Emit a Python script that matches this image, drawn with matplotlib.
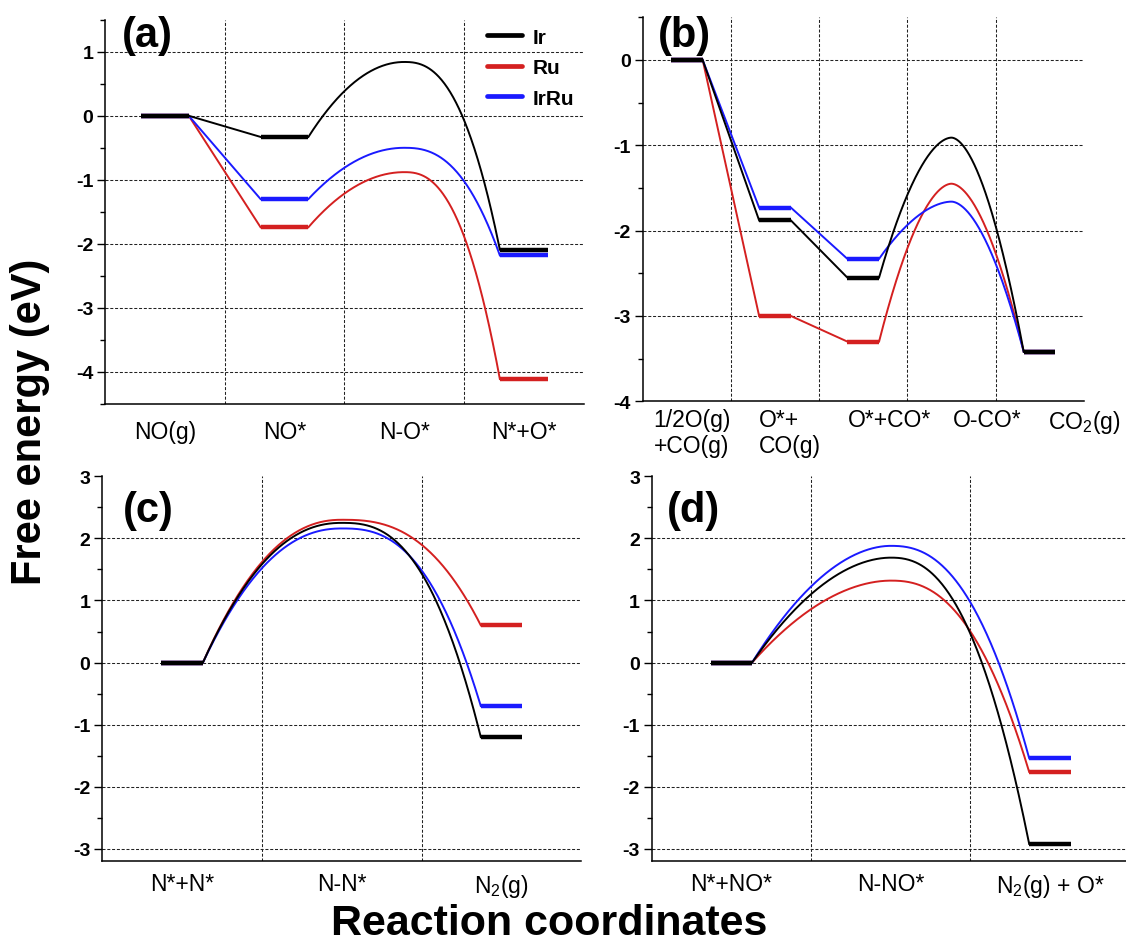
import numpy as np
import matplotlib
matplotlib.use("Agg")
import matplotlib.pyplot as plt
from matplotlib.lines import Line2D
from matplotlib.ticker import MultipleLocator

plt.rcParams["font.family"] = ["Liberation Sans", "DejaVu Sans"]
plt.rcParams["mathtext.fontset"] = "custom"
plt.rcParams["mathtext.rm"] = "Liberation Sans"
plt.rcParams["mathtext.it"] = "Liberation Sans:italic"
plt.rcParams["mathtext.bf"] = "Liberation Sans:bold"
plt.rcParams["axes.unicode_minus"] = False

# ---- free-energy data (eV) ----
series_names = ["Ir", "Ru", "IrRu"]

# (a) NO dissociation
a_states = ["NO(g)", "NO*", "N-O*", "N*+O*"]
a_ir = [0.00, -0.33, 0.84, -2.09]
a_ru = [0.00, -1.74, -0.88, -4.11]
a_irru = [0.00, -1.30, -0.50, -2.18]
a_ts = 2

# (b) CO oxidation
b_states = ["1/2O(g)\n+CO(g)", "O*+\nCO(g)", "O*+CO*", "O-CO*", "CO$_2$(g)"]
b_ir = [0.00, -1.88, -2.55, -0.91, -3.42]
b_ru = [0.00, -3.00, -3.30, -1.45, -3.42]
b_irru = [0.00, -1.73, -2.33, -1.66, -3.42]
b_ts = 3
b_label_x = [1.06, 2.17, 3.30, 4.41, 5.51]

# (c) N + N coupling
c_states = ["N*+N*", "N-N*", "N$_2$(g)"]
c_ir = [0.00, 2.25, -1.20]
c_ru = [0.00, 2.30, 0.60]
c_irru = [0.00, 2.16, -0.70]
c_ts = 1

# (d) N + NO coupling
d_states = ["N*+NO*", "N-NO*", "N$_2$(g) + O*"]
d_ir = [0.00, 1.69, -2.92]
d_ru = [0.00, 1.32, -1.76]
d_irru = [0.00, 1.88, -1.54]
d_ts = 1

colors = {"Ir": "#000000", "Ru": "#d42020", "IrRu": "#1a1aff"}
draw_order = ["Ru", "IrRu", "Ir"]

W, H = 1126, 945
fig = plt.figure(figsize=(W / 100, H / 100), dpi=100)


def px_axes(left, right, top, bottom):
    return fig.add_axes([left / W, 1 - bottom / H, (right - left) / W, (bottom - top) / H])


def barrier(x0, y0, xp, yp, x1, y1, pl, pr, n=200):
    xl = np.linspace(x0, xp, n)
    tl = (xp - xl) / (xp - x0)
    yl = yp - (yp - y0) * tl ** pl
    xr = np.linspace(xp, x1, n)
    tr = (xr - xp) / (x1 - xp)
    yr = yp - (yp - y1) * tr ** pr
    return np.concatenate([xl, xr[1:]]), np.concatenate([yl, yr[1:]])


def draw_profile(ax, values, ts, color, hw, pl, pr, z):
    xs = np.arange(1, len(values) + 1)
    levels = [i for i in range(len(values)) if i != ts]
    for i in levels:
        ax.plot([xs[i] - hw, xs[i] + hw], [values[i]] * 2, color=color,
                lw=3.2, solid_capstyle="butt", zorder=z + 1)
    for i, j in zip(levels[:-1], levels[1:]):
        x0, x1 = xs[i] + hw, xs[j] - hw
        if j - i == 2 and i + 1 == ts:
            bx, by = barrier(x0, values[i], xs[ts], values[ts], x1, values[j], pl, pr)
            ax.plot(bx, by, color=color, lw=1.4, zorder=z)
        else:
            ax.plot([x0, x1], [values[i], values[j]], color=color, lw=1.4, zorder=z)


def style_axes(ax, n, ylim):
    ax.set_xlim(0.5, n + 0.5)
    ax.set_ylim(*ylim)
    for s in ("top", "right"):
        ax.spines[s].set_visible(False)
    for s in ("left", "bottom"):
        ax.spines[s].set_linewidth(1.1)
    ax.yaxis.set_major_locator(MultipleLocator(1))
    ax.yaxis.set_minor_locator(MultipleLocator(0.5))
    ax.tick_params(axis="y", which="major", direction="out", length=6, width=1.0,
                   pad=2.5, labelsize=14)
    ax.tick_params(axis="y", which="minor", direction="out", length=3.5, width=1.0)
    for lab in ax.get_yticklabels():
        lab.set_fontweight("bold")
    ax.tick_params(axis="x", which="both", length=0)
    grid_kw = dict(color="#222222", lw=0.75, ls=(0, (2.9, 1.7)), zorder=0.5)
    for xb in np.arange(1.5, n, 1.0):
        ax.axvline(xb, **grid_kw)
    for yv in np.arange(np.ceil(ylim[0]), ylim[1], 1.0):
        if ylim[0] < yv < ylim[1]:
            ax.axhline(yv, **grid_kw)


panels = [
    dict(box=(105, 583.6, 20.7, 405), ylim=(-4.5, 1.5), states=a_states,
         data=dict(Ir=a_ir, Ru=a_ru, IrRu=a_irru), ts=a_ts, hw=0.2, p=(2.0, 2.5),
         pad=11.5, tag="(a)", tagpos=(122, 36)),
    dict(box=(642.7, 1083.7, 18.3, 402.3), ylim=(-4.0, 0.5), states=b_states,
         data=dict(Ir=b_ir, Ru=b_ru, IrRu=b_irru), ts=b_ts, hw=0.18, p=(1.8, 1.8),
         pad=None, tag="(b)", tagpos=(658, 36)),
    dict(box=(102.3, 581.4, 477.3, 862.3), ylim=(-3.2, 3.0), states=c_states,
         data=dict(Ir=c_ir, Ru=c_ru, IrRu=c_irru), ts=c_ts, hw=0.13, p=(2.2, 2.6),
         pad=8, tag="(c)", tagpos=(123, 511)),
    dict(box=(651.7, 1129.5, 477.3, 862.3), ylim=(-3.2, 3.0), states=d_states,
         data=dict(Ir=d_ir, Ru=d_ru, IrRu=d_irru), ts=d_ts, hw=0.13, p=(1.9, 2.4),
         pad=8, tag="(d)", tagpos=(667, 511)),
]

axes = []
for P in panels:
    ax = px_axes(*P["box"])
    n = len(P["states"])
    style_axes(ax, n, P["ylim"])
    for k, name in enumerate(draw_order):
        draw_profile(ax, P["data"][name], P["ts"], colors[name], P["hw"],
                     P["p"][0], P["p"][1], z=2 + 2 * k)
    if P["pad"] is not None:
        ax.set_xticks(np.arange(1, n + 1))
        ax.set_xticklabels(P["states"], fontsize=16.5)
        ax.tick_params(axis="x", pad=P["pad"])
    else:
        ax.set_xticks([])
        for xl, lab in zip(b_label_x, P["states"]):
            ax.text(xl, -0.018, lab, transform=ax.get_xaxis_transform(),
                    ha="center", va="top", multialignment="left",
                    fontsize=16.5, linespacing=1.15, clip_on=False)
    fig.text(P["tagpos"][0] / W, 1 - P["tagpos"][1] / H, P["tag"],
             fontsize=30, fontweight="bold", ha="left", va="center")
    axes.append(ax)

handles = [Line2D([], [], color=colors[nm], lw=3.4, solid_capstyle="round")
           for nm in series_names]
leg = axes[0].legend(handles, series_names, loc="upper left",
                     bbox_to_anchor=(0.798, 0.979), frameon=False, borderpad=0,
                     borderaxespad=0, handlelength=1.68, handletextpad=0.53,
                     labelspacing=0.55, prop=dict(size=15, weight="bold"))

fig.text(30 / W, 1 - 422 / H, "Free energy (eV)", rotation=90, ha="center",
         va="center", fontsize=30, fontweight="bold")
fig.text(549 / W, 1 - 924 / H, "Reaction coordinates", ha="center",
         va="center", fontsize=31, fontweight="bold")

fig.savefig("out.png", dpi=100)
